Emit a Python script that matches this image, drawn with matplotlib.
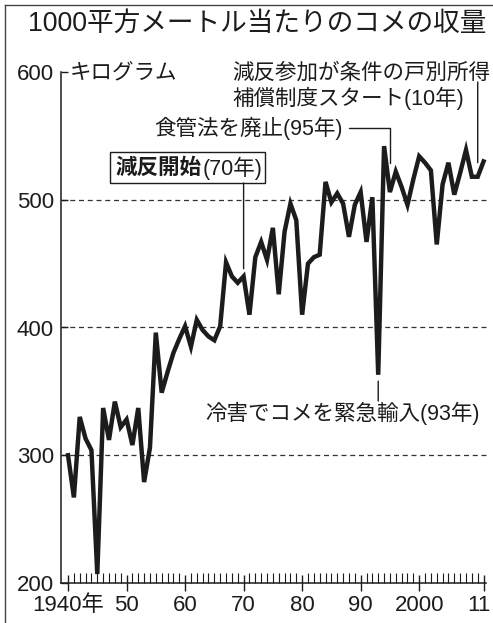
import matplotlib
matplotlib.use('Agg')
import matplotlib.pyplot as plt
from matplotlib.lines import Line2D
from matplotlib.patches import Rectangle
from matplotlib.transforms import ScaledTranslation

# --- Data (kg per 1000 m2) ---
years = list(range(1940, 2012))
yield_kg = [300, 267, 330, 313, 304, 207, 337, 312, 342, 322,
            328, 308, 337, 279, 306, 396, 349, 365, 380, 391,
            401, 385, 406, 398, 393, 390, 401, 451, 440, 435,
            440, 410, 455, 467, 453, 478, 426, 475, 497, 484,
            410, 450, 455, 457, 514, 498, 505, 497, 471, 496,
            506, 467, 502, 363, 542, 506, 522, 510, 496, 516,
            534, 529, 523, 465, 512, 529, 504, 521, 539, 518,
            518, 530]
x_ticks = [1940, 1950, 1960, 1970, 1980, 1990, 2000, 2011]
x_tick_labels = ['1940年', '50', '60', '70', '80', '90', '2000', '11']
y_ticks = [200, 300, 400, 500, 600]
grid_levels = [300, 400, 500]

TITLE = '1000平方メートル当たりのコメの収量'
W, H = 493, 623
INK = '#1c1c1c'

plt.rcParams['font.family'] = ['Liberation Sans', 'Noto Sans CJK JP']


def fx(px):
    return px / W


def fy(py):
    return 1 - py / H


fig = plt.figure(figsize=(W / 100, H / 100), dpi=100)
fig.patch.set_facecolor('white')
ax = fig.add_axes([fx(61), fy(583), fx(490) - fx(61), fy(72) - fy(583)])

ax.plot(years, yield_kg, color=INK, lw=3.2, solid_joinstyle='miter', zorder=3)

ax.set_xlim(1938.8, 2012.1)
ax.set_ylim(200, 600)

for lvl in grid_levels:
    ax.axhline(lvl, color='#333333', lw=0.9, ls=(0, (4, 3)), zorder=1)

for side in ['top', 'right']:
    ax.spines[side].set_visible(False)
ax.spines['bottom'].set_bounds(1938.8, 2011.5)
for side in ['left', 'bottom']:
    ax.spines[side].set_color(INK)
    ax.spines[side].set_linewidth(1.1)

ax.set_xticks(x_ticks)
ax.set_xticklabels(x_tick_labels)
ax.set_xticks(years, minor=True)
ax.tick_params(axis='x', which='major', direction='inout', length=11, width=1.0,
               color=INK, labelsize=16, pad=3, labelcolor=INK)
ax.tick_params(axis='x', which='minor', direction='in', length=7.5, width=0.8, color=INK)
# keep the last label ("11") inside the picture
last = ax.get_xticklabels()[-1]
last.set_horizontalalignment('right')
last.set_transform(last.get_transform() + ScaledTranslation(7 / 100, 0, fig.dpi_scale_trans))

ax.set_yticks(y_ticks)
ax.tick_params(axis='y', direction='in', length=5, width=1.0, color=INK,
               labelsize=16, pad=5, labelcolor=INK)

# --- Frame and title ---
fig.add_artist(Line2D([fx(5), fx(5)], [fy(5), 0], color='#444444', lw=1.0))
fig.add_artist(Line2D([fx(5), 1], [fy(5), fy(5)], color='#444444', lw=1.0))
fig.text(fx(28), fy(24), TITLE, fontsize=19.2, ha='left', va='center', color=INK)

# --- Annotations ---
fs = 15.5
fig.text(fx(70), fy(73), 'キログラム', fontsize=fs, ha='left', va='center', color=INK)

fig.text(fx(232), fy(73), '減反参加が条件の戸別所得', fontsize=fs, ha='left', va='center', color=INK)
fig.text(fx(232), fy(98), '補償制度スタート(10年)', fontsize=fs, ha='left', va='center', color=INK)
ax.annotate('', xy=(2010, 529), xytext=(2010, fy(82)),
            textcoords=('data', 'figure fraction'),
            arrowprops=dict(arrowstyle='-', color=INK, lw=1.0, shrinkA=0, shrinkB=0))

ax.annotate('食管法を廃止(95年)', xy=(1995, 529), xytext=(fx(343), fy(128)),
            textcoords='figure fraction', ha='right', va='center', fontsize=fs, color=INK,
            arrowprops=dict(arrowstyle='-', color=INK, lw=1.0, shrinkA=2, shrinkB=0,
                            relpos=(1, 0.5),
                            connectionstyle='angle,angleA=0,angleB=90,rad=0'))

fig.add_artist(Rectangle((fx(110), fy(183)), fx(265) - fx(110), fy(152) - fy(183),
                         transform=fig.transFigure, fill=False, ec=INK, lw=1.0))
t1 = fig.text(fx(115), fy(168), '減反開始', fontsize=fs, fontweight='bold',
              ha='left', va='center', color=INK)
ax.annotate('(70年)', xy=(1, 0.5), xycoords=t1, xytext=(1, 0), textcoords='offset points',
            ha='left', va='center', fontsize=fs, color=INK)
ax.annotate('', xy=(1970, 446), xytext=(1970, fy(183)),
            textcoords=('data', 'figure fraction'),
            arrowprops=dict(arrowstyle='-', color=INK, lw=1.0, shrinkA=0, shrinkB=0))

fig.text(fx(205), fy(413), '冷害でコメを緊急輸入(93年)', fontsize=fs, ha='left', va='center', color=INK)
ax.annotate('', xy=(1993, 358), xytext=(1993, fy(401)),
            textcoords=('data', 'figure fraction'),
            arrowprops=dict(arrowstyle='-', color=INK, lw=1.0, shrinkA=0, shrinkB=0))

fig.savefig('out.png', dpi=100, facecolor='white')
